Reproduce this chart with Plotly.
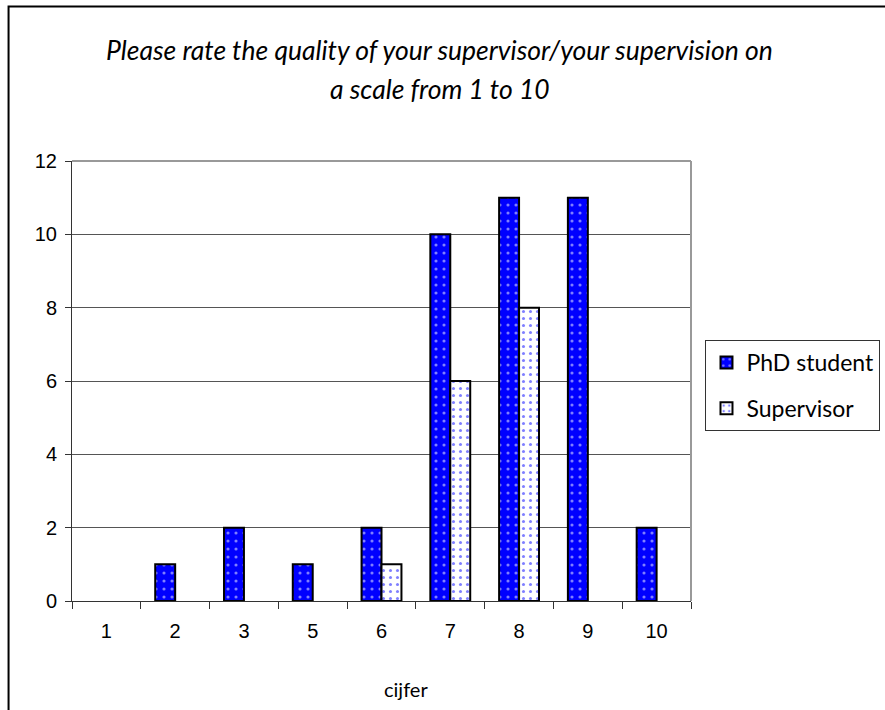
import plotly.graph_objects as go

categories = ["1", "2", "3", "5", "6", "7", "8", "9", "10"]
phd_values = [0, 1, 2, 1, 2, 10, 11, 11, 2]
supervisor_values = [0, 0, 0, 0, 1, 6, 8, 0, 0]
y_ticks = [0, 2, 4, 6, 8, 10, 12]

title_line1 = "Please rate the quality of your supervisor/your supervision on"
title_line2 = "a scale from 1 to 10"
x_title = "cijfer"

W, H = 885, 710
L, R, T, B = 72, 885 - 691.5, 161, 710 - 601
pw, ph = W - L - R, H - T - B

def px(x):
    return (x - L) / pw

def py(y):
    return (H - B - y) / ph

def nz(vals):
    # zero-height bars are not drawn in the reference
    return [v if v else None for v in vals]

fig = go.Figure()
fig.add_trace(go.Bar(
    x=categories, y=nz(phd_values), name="PhD student", legendgroup="a",
    marker=dict(color="#0000FF", line=dict(color="black", width=2),
                pattern=dict(shape=".", fgcolor="white", bgcolor="#0000FF",
                             size=8, solidity=0.12)),
))
fig.add_trace(go.Bar(
    x=categories, y=nz(supervisor_values), name="Supervisor", legendgroup="b",
    marker=dict(color="white", line=dict(color="black", width=2),
                pattern=dict(shape=".", fgcolor="#0000FF", bgcolor="white",
                             size=7, solidity=0.15)),
))

fig.update_layout(
    width=W, height=H,
    margin=dict(l=L, r=R, t=T, b=B, autoexpand=False),
    paper_bgcolor="white", plot_bgcolor="white",
    barmode="group", bargap=0.42, bargroupgap=0,
    font=dict(family="Liberation Sans, Arial", color="black", size=20),
    legend=dict(x=px(706), y=py(340), xanchor="left", yanchor="top",
                bordercolor="#333333", borderwidth=1, bgcolor="white",
                font=dict(family="Lato, Carlito, Calibri", size=23),
                tracegroupgap=13, entrywidth=200, entrywidthmode="pixels"),
    showlegend=True,
)
fig.update_xaxes(
    type="category", showline=True, linecolor="#333333", linewidth=1,
    ticks="outside", tickson="boundaries", ticklen=7, tickcolor="#333333",
    showgrid=False, ticklabelstandoff=12,
    tickfont=dict(family="Liberation Sans, Arial", size=20),
)
fig.update_yaxes(
    range=[0, 12], tickvals=y_ticks, showline=True, linecolor="#333333",
    linewidth=1, ticks="outside", ticklen=6, tickcolor="#333333",
    showgrid=True, gridcolor="#555555", gridwidth=1, zeroline=False,
    ticklabelstandoff=4,
    tickfont=dict(family="Liberation Sans, Arial", size=20),
)

# plot border top/right (gray)
fig.add_shape(type="line", xref="paper", yref="paper", x0=0, x1=1, y0=1, y1=1,
              line=dict(color="#999999", width=2), layer="above")
fig.add_shape(type="line", xref="paper", yref="paper", x0=1, x1=1, y0=0, y1=1,
              line=dict(color="#999999", width=2), layer="above")
# outer chart frame
fig.add_shape(type="rect", xref="paper", yref="paper",
              x0=px(8.5), x1=px(900), y0=py(715), y1=py(6.5),
              line=dict(color="black", width=2), layer="above")

fig.add_annotation(text=title_line1, xref="paper", yref="paper", x=px(440), y=py(50),
                   showarrow=False, xanchor="center", yanchor="middle",
                   font=dict(family="Lato, Carlito, Calibri", size=26.5, style="italic"))
fig.add_annotation(text=title_line2, xref="paper", yref="paper", x=px(440), y=py(89),
                   showarrow=False, xanchor="center", yanchor="middle",
                   font=dict(family="Lato, Carlito, Calibri", size=26.5, style="italic"))
fig.add_annotation(text=x_title, xref="paper", yref="paper", x=px(406), y=py(689),
                   showarrow=False, xanchor="center", yanchor="middle",
                   font=dict(family="Lato, Carlito, Calibri", size=20))

fig.write_html("out.html")
